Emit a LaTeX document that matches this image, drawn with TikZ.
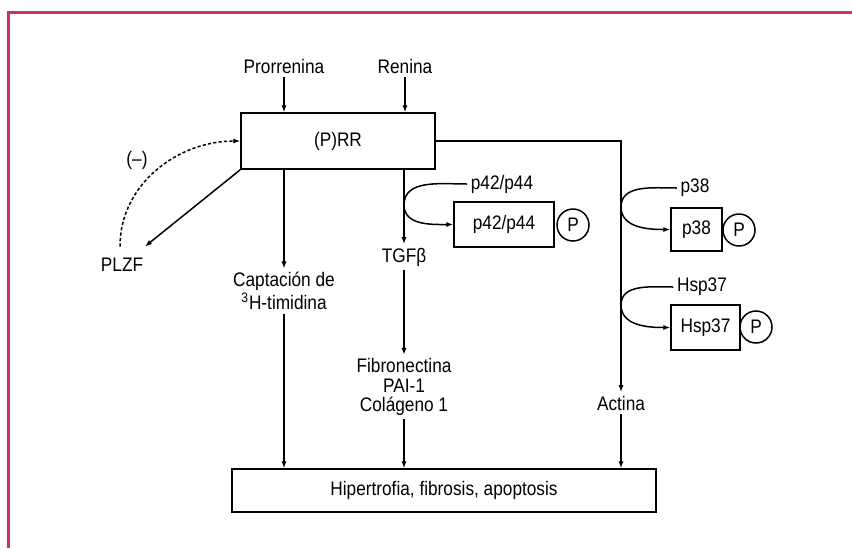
\documentclass[tikz,border=0pt]{standalone}
\usepackage{fontspec}
\setmainfont{Liberation Sans}[FakeStretch=0.88]
\usetikzlibrary{arrows.meta}
\definecolor{framered}{RGB}{204,51,90}

\begin{document}
\begin{tikzpicture}[x=0.5pt, y=-0.5pt, line width=0.75pt,
    font=\fontsize{9.8}{9.6}\selectfont,
    box/.style={draw, rectangle, inner sep=0pt},
    pcirc/.style={draw, circle, fill=white, minimum size=16pt, inner sep=0pt},
    lbl/.style={inner sep=1.5pt, align=center},
    arr/.style={-{Latex[length=3.5pt, width=2.6pt]}}]
          \useasboundingbox (0,0) rectangle (852,548);
          \draw[framered, line width=1.5pt] (852,12) -- (8,12) -- (8,548);

          \node[lbl] (prorrenina) at (284,66) {Prorrenina};
          \node[lbl] (renina)     at (405,66) {Renina};
          \node[box, minimum width=97pt, minimum height=28pt] (prr) at (338,141) {(P)RR};

          \node[lbl, inner ysep=5.5pt] (plzf) at (122,265) {PLZF};
          \node[lbl] (minus) at (137,160) {(–)};
          \node[lbl] (captacion) at (284,291) {Captación de\\\textsuperscript{3}H-timidina};
          \node[lbl] (tgfb)   at (404,257) {TGFβ};
          \node[lbl] (fibro)  at (404,387) {Fibronectina\\PAI-1\\Colágeno 1};
          \node[lbl] (actina) at (621,403) {Actina};

          \node[box, minimum width=212pt, minimum height=21.5pt] (hfa) at (444,490.5) {Hipertrofia, fibrosis, apoptosis};

          \node[lbl] (p42lbl) at (502,184) {p42/p44};
          \node[box, minimum width=50pt, minimum height=22.5pt] (p42) at (504,224.5) {p42/p44};
          \node[pcirc] (p42p) at (573,225) {P};

          \node[lbl] (p38lbl) at (695,188) {p38};
          \node[box, minimum width=25.5pt, minimum height=21.5pt] (p38) at (696.5,229.5) {p38};
          \node[pcirc] (p38p) at (739,230) {P};

          \node[lbl] (hsplbl) at (702,287) {Hsp37};
          \node[box, minimum width=34.5pt, minimum height=22.5pt] (hsp) at (705.5,327.5) {Hsp37};
          \node[pcirc] (hspp) at (756,327) {P};

          \coordinate (k1) at (404,205);
          \coordinate (k2) at (621,207);
          \coordinate (k3) at (621,305);

          \draw[arr] (prorrenina) -- (prorrenina |- prr.north);
          \draw[arr] (renina) -- (renina |- prr.north);

          \draw[arr] (prr.south west) -- (plzf);
          \draw[arr, dash pattern=on 1.6pt off 1.1pt] ([xshift=-1pt]plzf.north) to[out=90, in=180] (prr.west);

          \draw[arr] (captacion |- prr.south) -- (captacion);
          \draw[arr] (tgfb |- prr.south) -- (tgfb);
          \draw[arr] (tgfb) -- (fibro);
          \draw[arr] (prr.east) -| (actina);

          \draw[arr] (p42lbl.west) to[out=180, in=90] (k1) to[out=-90, in=180] (p42.west);
          \draw[arr] (p38lbl.west) to[out=180, in=90] (k2) to[out=-90, in=180] (p38.west);
          \draw[arr] (hsplbl.west) to[out=180, in=90] (k3) to[out=-90, in=180] (hsp.west);

          \draw[arr] (captacion) -- (captacion |- hfa.north);
          \draw[arr] (fibro) -- (fibro |- hfa.north);
          \draw[arr] (actina) -- (actina |- hfa.north);
        \end{tikzpicture}
\end{document}
